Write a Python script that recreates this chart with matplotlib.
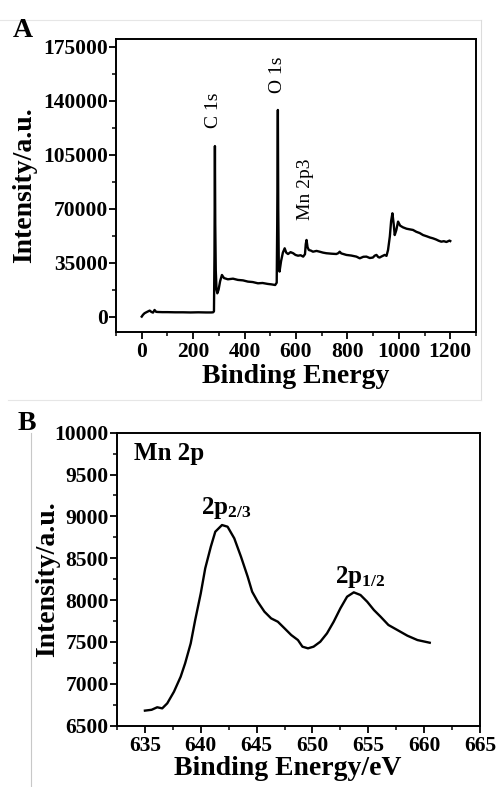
import matplotlib
matplotlib.use('Agg')
import matplotlib.pyplot as plt
from matplotlib.ticker import MultipleLocator
from matplotlib.lines import Line2D

# ---------------- Data ----------------
survey_energy = [0, 5, 11, 20, 31, 38, 44, 50, 56, 63, 80, 100, 130, 160, 190, 220, 250, 270, 278,
                 281, 283, 284.7, 286, 288, 291, 294, 299, 305, 312, 320, 335, 355, 374, 394, 413, 432,
                 452, 470, 490, 505, 519, 525, 527, 529.5, 531, 533, 536, 542, 549, 556, 562, 569, 579,
                 589, 598, 608, 618, 628, 635, 638, 641, 645, 650, 658, 666, 680, 692, 705, 718, 738,
                 757, 765, 770, 776, 796, 815, 835, 848, 862, 874, 887, 899, 906, 913, 920, 925, 935,
                 945, 952, 958, 965, 970, 975, 980, 984, 990, 997, 1005, 1016, 1030, 1042, 1055, 1068,
                 1081, 1094, 1110, 1121, 1132, 1145, 1155, 1165, 1175, 1185, 1197, 1200]
survey_intensity = [0, 1200, 2200, 3000, 3900, 3000, 2600, 4300, 3100, 3000, 2900, 2900, 2800, 2800,
                    2700, 2800, 2700, 2700, 2800,
                    3500, 40000, 110600, 60000, 30000, 17500, 15100, 17500, 23000, 27000, 25000,
                    24200, 24600, 23800, 23500, 22700, 22400, 21600, 21800, 21200, 20900, 20500,
                    22000, 60000, 134000, 70000, 35000, 29200, 36000, 41500, 44300, 41500, 40600,
                    41800, 41100, 40000, 39500, 39800, 38900, 40500, 47000, 49700, 45000, 43200,
                    42800, 42100, 42600, 42100, 41500, 41100, 40800, 40600, 41200, 42100, 41000,
                    40000, 39600, 38900, 37800, 38800, 38900, 38000, 38300, 39500, 40000, 38600,
                    38300, 39200, 40000, 39400, 43200, 52000, 62000, 67000, 60000, 52900, 56000,
                    61600, 59000, 57900, 57000, 56600, 56200, 55000, 54200, 52900, 52000, 51300,
                    50800, 50000, 49200, 48600, 48900, 48400, 49300, 49000]

mn_energy = [635.0, 635.6, 636.1, 636.55, 637.0, 637.6, 638.2, 638.6, 639.1, 639.5, 640.0, 640.4,
             640.9, 641.3, 641.9, 642.4, 643.0, 643.6, 644.2, 644.6, 645.1, 645.7, 646.3, 646.9,
             647.5, 648.1, 648.7, 649.1, 649.6, 650.1, 650.7, 651.3, 651.9, 652.5, 653.1, 653.7,
             654.3, 654.9, 655.5, 656.1, 656.8, 657.6, 658.5, 659.4, 660.5]
mn_intensity = [6680, 6690, 6720, 6707, 6767, 6906, 7085, 7245, 7483, 7762, 8081, 8380, 8638, 8817,
                8897, 8877, 8738, 8519, 8280, 8101, 7981, 7862, 7782, 7742, 7663, 7583, 7523, 7444,
                7424, 7444, 7503, 7603, 7742, 7902, 8041, 8093, 8061, 7981, 7882, 7802, 7703, 7643,
                7575, 7523, 7491]

survey_yticks = [0, 35000, 70000, 105000, 140000, 175000]
survey_xticks = [0, 200, 400, 600, 800, 1000, 1200]
mn_yticks = [6500, 7000, 7500, 8000, 8500, 9000, 9500, 10000]
mn_xticks = [635, 640, 645, 650, 655, 660, 665]

survey_labels = ['C 1s', 'O 1s', 'Mn 2p3']
survey_label_x = [278, 530, 638]
survey_label_y = [133500, 156600, 82300]

# ---------------- Style ----------------
plt.rcParams['font.family'] = ['Liberation Serif', 'DejaVu Serif']
plt.rcParams['font.weight'] = 'bold'
plt.rcParams['mathtext.fontset'] = 'custom'
plt.rcParams['mathtext.rm'] = 'Liberation Serif:bold'
plt.rcParams['mathtext.bf'] = 'Liberation Serif:bold'
plt.rcParams['mathtext.it'] = 'Liberation Serif:bold'
plt.rcParams['mathtext.default'] = 'bf'

fig = plt.figure(figsize=(4.97, 7.87), dpi=100)
fig.patch.set_facecolor('white')

axA = fig.add_axes([0.2334, 0.5781, 0.7243, 0.3723])
axB = fig.add_axes([0.2354, 0.0779, 0.7304, 0.3723])

for ax in (axA, axB):
    for s in ax.spines.values():
        s.set_linewidth(1.4)
    ax.tick_params(which='major', direction='out', length=5, width=1.3, labelsize=15.5, pad=1.0)
    ax.tick_params(which='minor', direction='out', length=3, width=1.1)
    ax.tick_params(axis='x', which='major', pad=2.5)

# Panel A
axA.plot(survey_energy, survey_intensity, color='black', lw=1.7)
axA.set_xlim(-100, 1300)
axA.set_ylim(-10000, 180000)
axA.set_xticks(survey_xticks)
axA.set_yticks(survey_yticks)
axA.xaxis.set_minor_locator(MultipleLocator(100))
axA.yaxis.set_minor_locator(MultipleLocator(17500))
axA.set_xlabel('Binding Energy', fontsize=20, fontweight='bold', labelpad=1)
axA.set_ylabel('Intensity/a.u.', fontsize=20, fontweight='bold', labelpad=4)
for t, x, y in zip(survey_labels, survey_label_x, survey_label_y):
    axA.text(x, y, t, rotation=90, ha='center', va='center', fontsize=14, fontweight='normal')

# Panel B
axB.plot(mn_energy, mn_intensity, color='black', lw=1.7)
axB.set_xlim(632.5, 665)
axB.set_ylim(6500, 10000)
axB.set_xticks(mn_xticks)
axB.set_yticks(mn_yticks)
axB.xaxis.set_minor_locator(MultipleLocator(2.5))
axB.yaxis.set_minor_locator(MultipleLocator(250))
axB.set_xlabel('Binding Energy/eV', fontsize=20, fontweight='bold', labelpad=0)
axB.xaxis.label.set_x(0.47)
axB.set_ylabel('Intensity/a.u.', fontsize=20, fontweight='bold', labelpad=-4)
axB.text(634.0, 9750, 'Mn 2p', fontsize=18, fontweight='bold', ha='left', va='center')
axB.text(642.3, 9100, r'$2p_{2/3}$', fontsize=18, ha='center', va='center')
axB.text(654.3, 8280, r'$2p_{1/2}$', fontsize=18, ha='center', va='center')

for ax in (axA, axB):
    for lbl in ax.get_xticklabels() + ax.get_yticklabels():
        lbl.set_fontweight('bold')

# Panel letters
fig.text(0.026, 0.977, 'A', fontsize=20, fontweight='bold', ha='left', va='top')
fig.text(0.036, 0.4778, 'B', fontsize=20, fontweight='bold', ha='left', va='top')

# faint panel frames
W, H = 497.0, 787.0
fig.add_artist(Line2D([0, 481 / W], [1 - 20 / H, 1 - 20 / H], color='#e6e6e6', lw=0.8))
fig.add_artist(Line2D([481 / W, 481 / W], [1 - 20 / H, 1 - 400 / H], color='#dcdcdc', lw=0.8))
fig.add_artist(Line2D([8 / W, 481 / W], [1 - 400 / H, 1 - 400 / H], color='#e6e6e6', lw=0.8))
fig.add_artist(Line2D([30.7 / W, 30.7 / W], [1 - 433 / H, 0], color='#c8c8c8', lw=0.8))

fig.savefig('out.png', dpi=100, facecolor='white')
